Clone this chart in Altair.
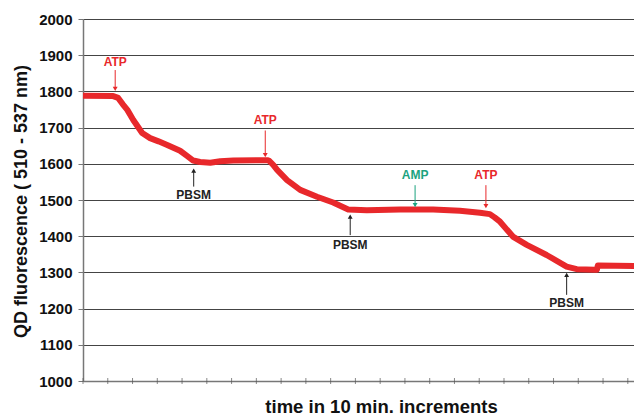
import altair as alt
import pandas as pd

# trace values (x in 10-min increments, y fluorescence)
t = [0.0, 1.22, 1.42, 1.60, 1.79, 2.03, 2.39, 2.71, 3.05, 3.40, 3.92, 4.20, 4.45, 4.73, 5.14, 5.54, 6.07,
     7.44, 7.52, 7.68, 7.84, 8.24, 8.77, 9.45, 10.10, 10.71, 11.46, 12.80, 14.14, 15.22,
     16.03, 16.43, 16.62, 16.84, 17.36, 17.92, 18.72, 19.53, 19.94, 20.67, 20.75, 20.79, 22.25]
fluor = [1788, 1787, 1782, 1765, 1749, 1721, 1685, 1671, 1662, 1652, 1636, 1622, 1609, 1605, 1603, 1607, 1609,
         1610, 1608, 1597, 1583, 1555, 1528, 1509, 1493, 1474, 1472, 1474, 1474, 1470,
         1465, 1461, 1452, 1440, 1399, 1376, 1348, 1316, 1309, 1307, 1307, 1319, 1318]

# annotations
ann_label = ["ATP", "PBSM", "ATP", "PBSM", "AMP", "ATP", "PBSM"]
ann_x = [1.30, 4.47, 7.36, 10.79, 13.41, 16.27, 19.53]
ann_text_y = [1881, 1514, 1721, 1376, 1569, 1569, 1215]
ann_tail_y = [1859, 1537, 1692, 1403, 1541, 1541, 1238]
ann_tip_y = [1807, 1581, 1624, 1454, 1486, 1483, 1293]
ann_dir = ["down", "up", "down", "up", "down", "down", "up"]
ann_color = ["#e8282b", "#222222", "#e8282b", "#222222", "#1ba37f", "#e8282b", "#222222"]

y_ticks = list(range(1000, 2001, 100))
tick_x = list(range(0, 23))

line_df = pd.DataFrame({"t": t, "f": fluor})
ann_df = pd.DataFrame({"label": ann_label, "x": ann_x, "ty": ann_text_y,
                       "tail": ann_tail_y, "tip": ann_tip_y, "dir": ann_dir,
                       "color": ann_color})
ann_df["shape"] = ann_df["dir"].map({"down": "triangle-down", "up": "triangle-up"})
tick_df = pd.DataFrame({"x": tick_x, "y": [1000] * len(tick_x)})

FONT = "Liberation Sans"
xs = alt.Scale(domain=[0, 22.25], nice=False, zero=False)
ys = alt.Scale(domain=[1000, 2000], nice=False, zero=False)

x_axis = alt.Axis(title="time in 10 min. increments", labels=False, ticks=False,
                  grid=False, domainColor="#777777", domainWidth=1.5,
                  titleFont=FONT, titleFontSize=18.5, titleFontWeight="bold",
                  titleColor="#111111", titleX=298, titleY=25, titleAlign="center",
                  titleBaseline="middle")
y_axis = alt.Axis(title="QD fluorescence ( 510 - 537 nm)", values=y_ticks,
                  format="d", labelOverlap=False,
                  labelFont=FONT, labelFontSize=15, labelFontWeight="bold",
                  labelColor="#111111", labelPadding=6, tickSize=5,
                  tickColor="#777777", domainColor="#777777", domainWidth=1.5,
                  gridColor="#444444", gridWidth=1,
                  titleFont=FONT, titleFontSize=18, titleFontWeight="bold",
                  titleColor="#111111", titleX=-62, titleY=182,
                  titleAngle=-90, titleBaseline="middle", titleAlign="center")

def nx(field):
    return alt.X(field, scale=xs, axis=x_axis)

def ny(field):
    return alt.Y(field, scale=ys, axis=y_axis)

line = alt.Chart(line_df).mark_line(color="#e8282b", strokeWidth=6, strokeJoin="round").encode(
    x=nx("t:Q"), y=ny("f:Q"))

ticks = alt.Chart(tick_df).mark_tick(color="#555555", thickness=1, size=6, orient="vertical").encode(
    x=nx("x:Q"), y=ny("y:Q"))

shafts = alt.Chart(ann_df).mark_rule(strokeWidth=1).encode(
    x=nx("x:Q"), y=ny("tail:Q"), y2="tip:Q",
    color=alt.Color("color:N", scale=None))

heads = alt.Chart(ann_df).mark_point(filled=True, size=24, opacity=1).encode(
    x=nx("x:Q"), y=ny("tip:Q"),
    shape=alt.Shape("shape:N", scale=None),
    color=alt.Color("color:N", scale=None))

labels = alt.Chart(ann_df).mark_text(font=FONT, fontSize=12, fontWeight="bold", baseline="middle").encode(
    x=nx("x:Q"), y=ny("ty:Q"), text="label:N",
    color=alt.Color("color:N", scale=None))

chart = alt.layer(line, ticks, shafts, heads, labels).properties(
    width=551, height=362,
    autosize=alt.AutoSizeParams(type="none"),
    padding={"left": 83, "top": 19, "right": 0, "bottom": 35},
    background="white",
).configure_view(stroke=None)

chart.save("out.html", embed_options={"renderer": "svg", "actions": False})
